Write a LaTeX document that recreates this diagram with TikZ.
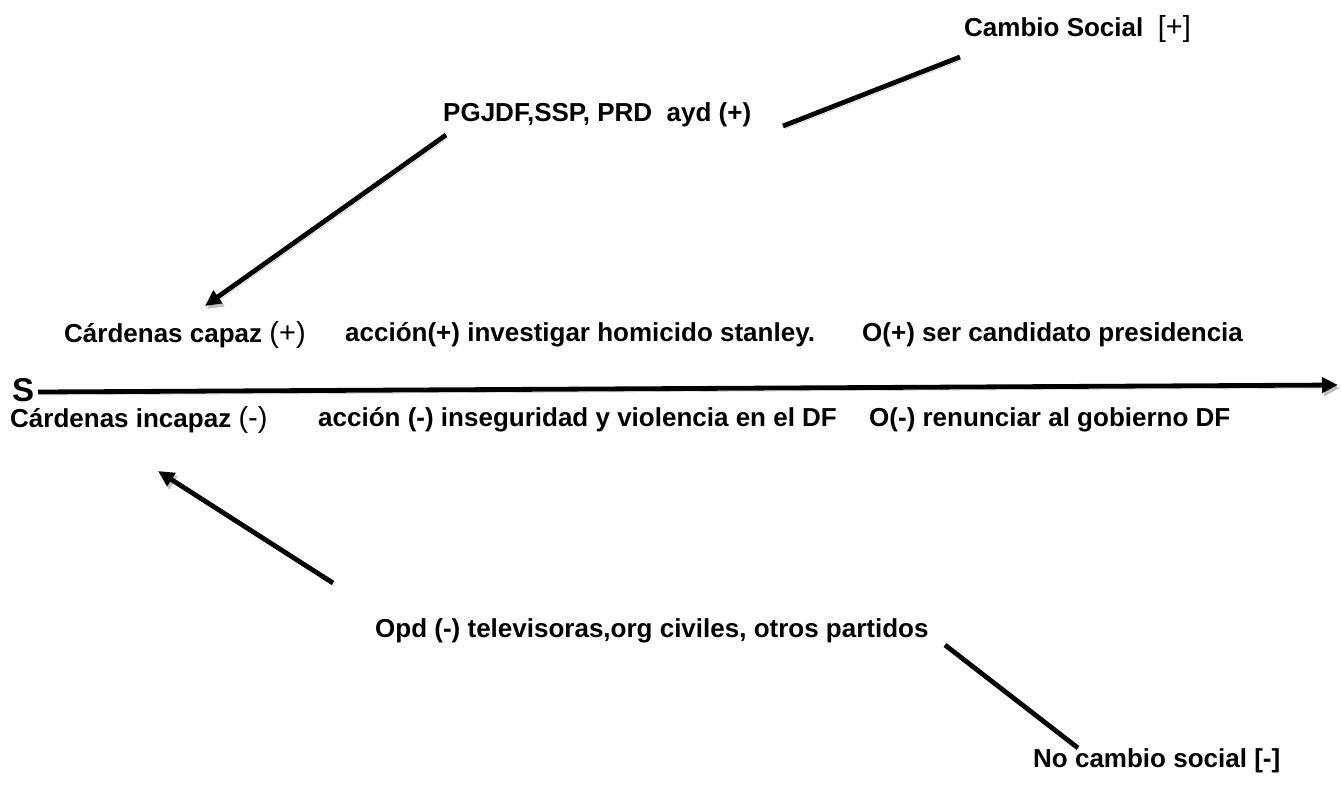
\documentclass[tikz,border=0pt]{standalone}
\usepackage{fontspec}
\setmainfont{Liberation Sans}
\usetikzlibrary{arrows.meta}
\newcommand{\lite}[1]{{\mdseries\fontsize{29}{30}\selectfont#1}}
\begin{document}
\begin{tikzpicture}[x=1pt,y=-1pt,
  lbl/.style={font=\bfseries\fontsize{26}{28}\selectfont, inner sep=0pt, anchor=west},
  shade/.style={preaction={draw, black!25, transform canvas={shift={(2pt,-3pt)}}}},
  conn/.style={line width=4.8pt, line cap=butt, shade},
  arr/.style={conn, -{Triangle[length=16pt,width=15pt]}}]
\useasboundingbox (0,0) rectangle (1341,785);
\fill[white] (0,0) rectangle (1341,785);
% texts
\node[lbl] (cambio) at (964,29) {Cambio Social\ \ \lite{[+]}};
\node[lbl] (pgj) at (443,115) {PGJDF,SSP, PRD\ \ ayd (+)};
\node[lbl] (capaz) at (64,335) {Cárdenas capaz \lite{(+)}};
\node[lbl] (acc1) at (345,335) {acción(+) investigar homicido stanley.};
\node[lbl] (o1) at (862,335) {O(+) ser candidato presidencia};
\node[lbl,font=\bfseries\fontsize{33}{34}\selectfont] (S) at (12,390) {S};
\node[lbl] (incapaz) at (10,420) {Cárdenas incapaz \lite{(-)}};
\node[lbl] (acc2) at (318,420) {acción (-) inseguridad y violencia en el DF};
\node[lbl] (o2) at (869,420) {O(-) renunciar al gobierno DF};
\node[lbl] (opd) at (375,631) {Opd (-) televisoras,org civiles, otros partidos};
\node[lbl] (nocambio) at (1033,761) {No cambio social [-]};
\coordinate (mend) at (1338,385);
% connectors
\draw[conn] ([shift={(340,11)}]pgj.west) -- ([shift={(-4,28)}]cambio.west);
\draw[arr] ([shift={(3,20)}]pgj.west) -- ([shift={(141,-29)}]capaz.west);
\draw[arr] ([shift={(26,2)}]S.west) -- (mend);
\draw[arr] ([shift={(-42,-48)}]opd.west) -- ([shift={(148,51)}]incapaz.west);
\draw[conn] ([shift={(570,14)}]opd.west) -- ([shift={(45,-13)}]nocambio.west);
\end{tikzpicture}
\end{document}
